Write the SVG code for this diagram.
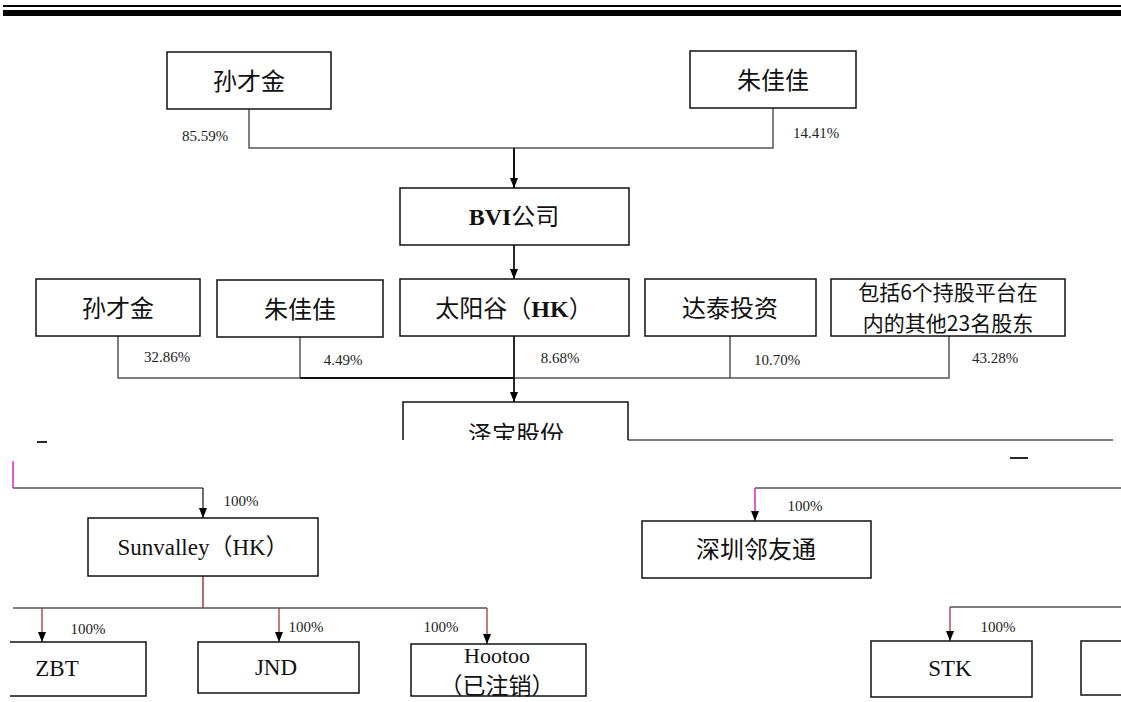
<svg xmlns="http://www.w3.org/2000/svg" width="1121" height="702" viewBox="0 0 1121 702">
<style>
.box{fill:#fff;stroke:#111;stroke-width:1.5}
.cn{font-family:"Noto Sans CJK SC","Liberation Sans",sans-serif;font-size:24px;fill:#111;text-anchor:middle}
.cn2{font-size:20px}
.lat{font-family:"Liberation Serif","Noto Sans CJK SC",serif;font-size:23px;fill:#111;text-anchor:middle}
.pct{font-family:"Liberation Serif",serif;font-size:15px;fill:#222;text-anchor:middle}
.ln{fill:none;stroke:#555;stroke-width:1.5}
.lnb{fill:none;stroke:#111;stroke-width:1.8}
.mag{fill:none;stroke:#e020e0;stroke-width:1.5}
</style>
<defs>
<marker id="ah" markerWidth="10" markerHeight="8" refX="10" refY="4" orient="auto" markerUnits="userSpaceOnUse" viewBox="0 0 10 8">
<path d="M0,0 L10,4 L0,8 Z" fill="#000"/>
</marker>
<clipPath id="cut"><rect x="0" y="0" width="1121" height="440"/></clipPath>
</defs>
<rect x="0" y="0" width="1121" height="702" fill="#fff"/>
<g id="header">
<rect x="3" y="5" width="1118" height="2" fill="#000"/>
<rect x="3" y="10" width="1118" height="6" fill="#000"/>
</g>
<g id="connectors">
<path class="ln" d="M249,109 V148 H773 V108"/>
<line class="lnb" x1="514" y1="148" x2="514" y2="188" marker-end="url(#ah)" style="stroke-width:2"/>
<line class="lnb" x1="514" y1="245" x2="514" y2="279" marker-end="url(#ah)"/>
<path class="ln" d="M118,336 V378 H949 V336"/>
<line class="ln" x1="300" y1="337" x2="300" y2="378"/>
<line class="ln" x1="730" y1="336" x2="730" y2="378"/>
<line class="lnb" x1="300" y1="378" x2="514" y2="378" style="stroke-width:2.2"/>
<line class="lnb" x1="514" y1="336" x2="514" y2="402" marker-end="url(#ah)"/>
<line class="ln" x1="628" y1="440" x2="1113" y2="440"/>
<line class="lnb" x1="37" y1="442" x2="47" y2="442"/>
<line class="lnb" x1="1010" y1="458" x2="1028" y2="458"/>
<line class="mag" x1="13" y1="461" x2="13" y2="488"/>
<path class="ln" d="M13,488 H203"/>
<line class="lnb" x1="203" y1="488" x2="203" y2="518" marker-end="url(#ah)" style="stroke-width:1.2"/>
<path class="ln" d="M1121,488 H755"/>
<line class="mag" x1="755" y1="488" x2="755" y2="521" marker-end="url(#ah)"/>
<line class="ln" x1="203" y1="576" x2="203" y2="608" style="stroke:#a33"/>
<path class="ln" d="M13,608 H487"/>
<line class="lnb" x1="42" y1="608" x2="42" y2="642" marker-end="url(#ah)" style="stroke-width:1.2;stroke:#a22"/>
<line class="lnb" x1="279" y1="608" x2="279" y2="642" marker-end="url(#ah)" style="stroke-width:1.2;stroke:#a22"/>
<line class="lnb" x1="487" y1="608" x2="487" y2="644" marker-end="url(#ah)" style="stroke-width:1.2;stroke:#a22"/>
<path class="ln" d="M1121,607 H950"/>
<line class="lnb" x1="950" y1="607" x2="950" y2="641" marker-end="url(#ah)" style="stroke-width:1.2;stroke:#a22"/>
</g>
<g id="labels">
<text class="pct" x="205" y="141">85.59%</text>
<text class="pct" x="816" y="138">14.41%</text>
<text class="pct" x="167" y="362">32.86%</text>
<text class="pct" x="343" y="365">4.49%</text>
<text class="pct" x="560" y="363">8.68%</text>
<text class="pct" x="777" y="365">10.70%</text>
<text class="pct" x="995" y="363">43.28%</text>
<text class="pct" x="241" y="506">100%</text>
<text class="pct" x="805" y="511">100%</text>
<text class="pct" x="88" y="634">100%</text>
<text class="pct" x="306" y="632">100%</text>
<text class="pct" x="441" y="632">100%</text>
<text class="pct" x="998" y="632">100%</text>
</g>
<g id="n-suncaijin-top"><rect class="box" x="167" y="52" width="164" height="57"/><text class="cn" x="249" y="90">孙才金</text></g>
<g id="n-zhujiajia-top"><rect class="box" x="690" y="51" width="166" height="57"/><text class="cn" x="773" y="89">朱佳佳</text></g>
<g id="n-bvi"><rect class="box" x="400" y="188" width="229" height="57"/><text class="cn" x="514" y="225"><tspan style="font-family:'Liberation Serif',serif;font-weight:bold">BVI</tspan>公司</text></g>
<g id="n-suncaijin"><rect class="box" x="36" y="279" width="164" height="57"/><text class="cn" x="118" y="317">孙才金</text></g>
<g id="n-zhujiajia"><rect class="box" x="217" y="280" width="166" height="57"/><text class="cn" x="300" y="318">朱佳佳</text></g>
<g id="n-taiyanggu"><rect class="box" x="400" y="279" width="229" height="57"/><text class="cn" x="514" y="317">太阳谷（<tspan style="font-family:'Liberation Serif',serif;font-weight:bold">HK</tspan>）</text></g>
<g id="n-datai"><rect class="box" x="645" y="279" width="171" height="57"/><text class="cn" x="730" y="317">达泰投资</text></g>
<g id="n-others"><rect class="box" x="831" y="279" width="234" height="57"/><text class="cn" style="font-size:21px"><tspan x="948" y="300">包括6个持股平台在</tspan><tspan x="948" y="331">内的其他23名股东</tspan></text></g>
<g id="n-zebao" clip-path="url(#cut)"><path class="box" style="fill:none" d="M403,470 V402 H628 V470"/><text class="cn" x="516" y="443">泽宝股份</text></g>
<g id="n-sunvalley"><rect class="box" x="88" y="518" width="230" height="58"/><text class="lat" x="203" y="555">Sunvalley（HK）</text></g>
<g id="n-linyoutong"><rect class="box" x="642" y="521" width="229" height="57"/><text class="cn" x="756" y="558">深圳邻友通</text></g>
<g id="n-zbt"><path class="box" d="M10,642 H146 V696 H10"/><text class="lat" x="57" y="676">ZBT</text></g>
<g id="n-jnd"><rect class="box" x="198" y="642" width="161" height="51"/><text class="lat" x="276" y="675">JND</text></g>
<g id="n-hootoo"><rect class="box" x="411" y="644" width="175" height="52"/><text class="lat" x="497" y="663" style="font-size:22px">Hootoo</text><text class="cn" x="497" y="694" style="font-size:23px">（已注销）</text></g>
<g id="n-stk"><rect class="box" x="871" y="641" width="161" height="56"/><text class="lat" x="950" y="676">STK</text></g>
<g id="n-partial"><path class="box" d="M1121,641 H1081 V695 H1121"/></g>
</svg>
